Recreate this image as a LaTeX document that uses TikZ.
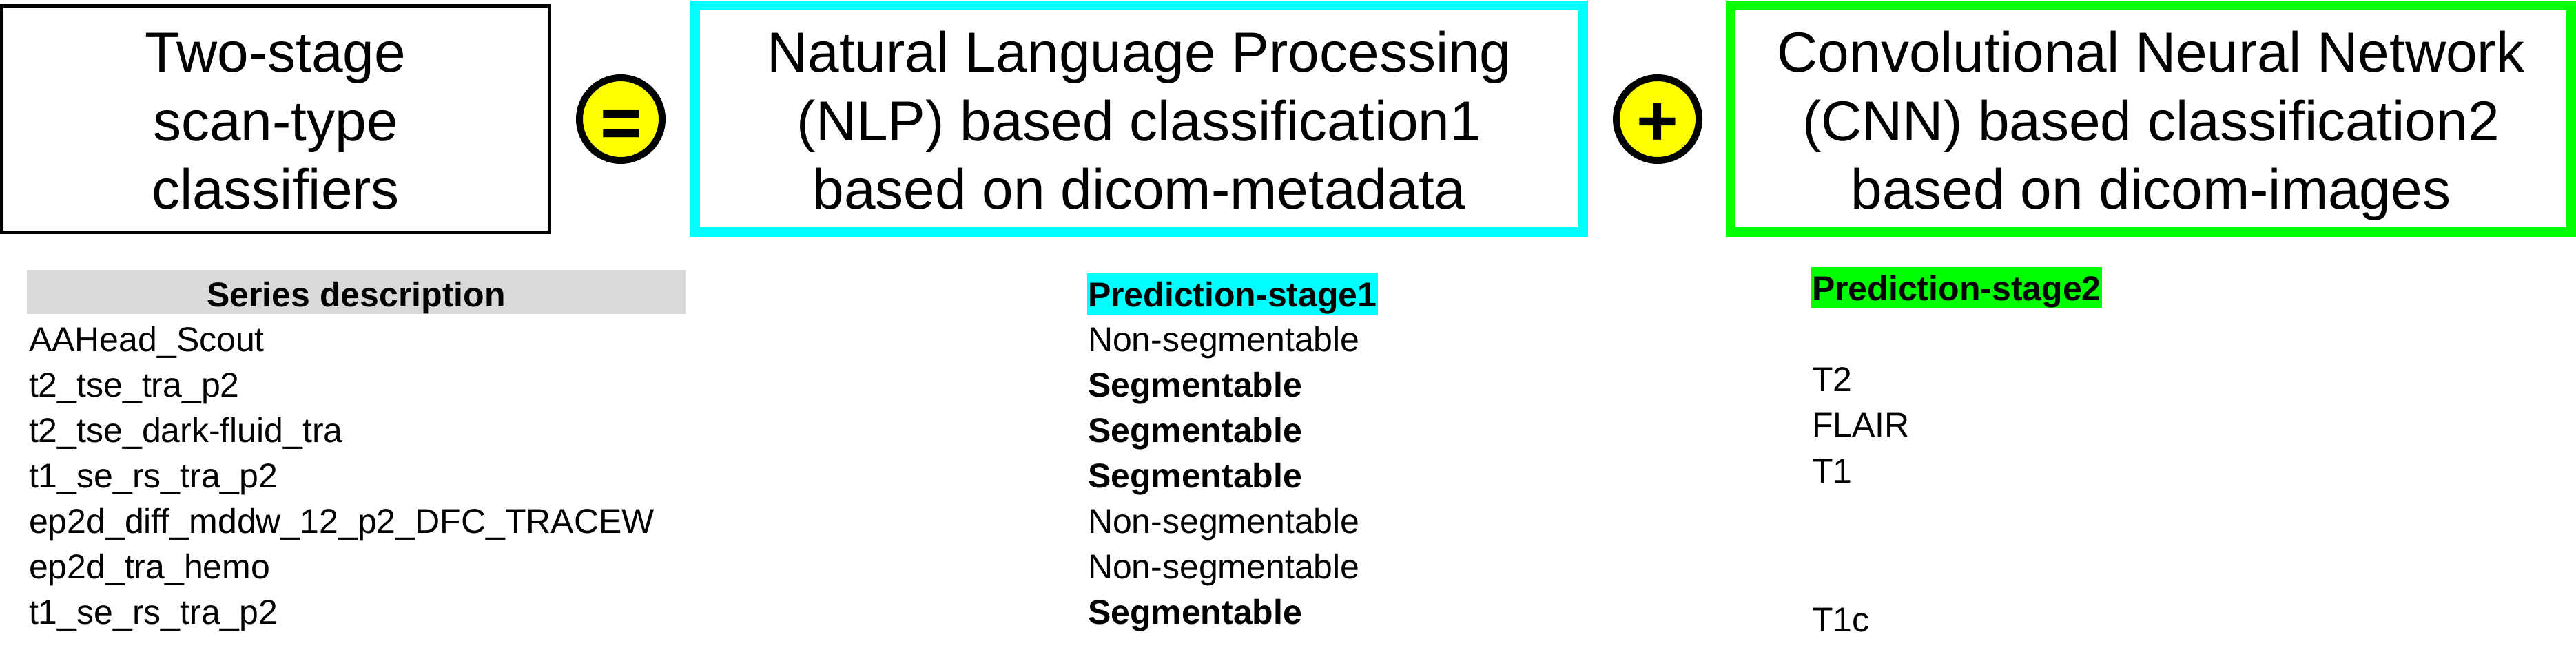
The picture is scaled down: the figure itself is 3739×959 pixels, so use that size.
\documentclass[tikz,border=0pt]{standalone}
\usepackage{fontspec}
\setmainfont{Liberation Sans}
\definecolor{hlcyan}{RGB}{0,255,255}
\definecolor{hlgreen}{RGB}{0,255,0}
\definecolor{hlgray}{RGB}{217,217,217}
\definecolor{opyellow}{RGB}{255,255,0}
\begin{document}
\begin{tikzpicture}[x=0.2pt,y=-0.2pt,
  bigbox/.style={draw, rectangle, inner sep=0pt, minimum height=65.8pt},
  boxtext/.style={inner sep=0pt, align=center, font=\fontsize{16.4pt}{19.8pt}\selectfont},
  opcircle/.style={circle, draw=black, fill=opyellow, line width=2pt, minimum size=24pt, inner sep=0pt},
  opsym/.style={inner sep=0pt, anchor=base, font=\fontsize{20.8pt}{24pt}\selectfont\bfseries},
  cell/.style={inner sep=0pt, anchor=base west, font=\fontsize{10pt}{12pt}\selectfont},
  boldcell/.style={inner sep=0pt, anchor=base west, font=\fontsize{10pt}{12pt}\selectfont\bfseries},
  headcell/.style={inner ysep=0pt, inner xsep=0.2pt, font=\fontsize{10pt}{12pt}\selectfont\bfseries},
  ]
\useasboundingbox (0,0) rectangle (3739,959);

% top row boxes
\node[bigbox, line width=1pt, minimum width=159pt] (cls) at (400,173) {};
\node[boxtext] (clsT) at (400,184.2) {\strut Two-stage\\\strut scan-type\\\strut classifiers};

\node[opcircle] (eq) at (901,173) {};
\node[opsym] (eqsym) at (901.5,215) {=};

\node[bigbox, draw=hlcyan, line width=2.8pt, minimum width=257.8pt] (nlp) at (1653.5,172.5) {};
\node[boxtext] (nlpT) at (1653.5,184.2) {\strut Natural Language Processing\\\strut (NLP) based classification1\\\strut based on dicom-metadata};

\node[opcircle] (plus) at (2406,173) {};
\node[opsym] (plussym) at (2406,212) {+};

\node[bigbox, draw=hlgreen, line width=2.8pt, minimum width=244pt] (cnn) at (3122,172.5) {};
\node[boxtext] (cnnT) at (3122,184.2) {\strut Convolutional Neural Network\\\strut (CNN) based classification2\\\strut based on dicom-images};

% table headers
\node[headcell, fill=hlgray, minimum width=191.2pt, text height=10.6pt, text depth=2.2pt, anchor=base] (hdr) at (517,445) {Series description};
\node[headcell, fill=hlcyan, text height=9.6pt, text depth=2.6pt, anchor=base west] (p1) at (1577,445) {Prediction-stage1};
\node[headcell, fill=hlgreen, text height=9.6pt, text depth=2.4pt, anchor=base west] (p2) at (2628,436) {Prediction-stage2};

% series descriptions
\node[cell] (r1) at (41,510) {AAHead\_Scout};
\node[cell] (r2) at (41,576) {t2\_tse\_tra\_p2};
\node[cell] (r3) at (41,642) {t2\_tse\_dark-fluid\_tra};
\node[cell] (r4) at (41,708) {t1\_se\_rs\_tra\_p2};
\node[cell] (r5) at (41,774) {ep2d\_diff\_mddw\_12\_p2\_DFC\_TRACEW};
\node[cell] (r6) at (41,840) {ep2d\_tra\_hemo};
\node[cell] (r7) at (41,906) {t1\_se\_rs\_tra\_p2};

% stage 1 predictions
\node[cell] (s1) at (1578,510) {Non-segmentable};
\node[boldcell] (s2) at (1578,576) {Segmentable};
\node[boldcell] (s3) at (1578,642) {Segmentable};
\node[boldcell] (s4) at (1578,708) {Segmentable};
\node[cell] (s5) at (1578,774) {Non-segmentable};
\node[cell] (s6) at (1578,840) {Non-segmentable};
\node[boldcell] (s7) at (1578,906) {Segmentable};

% stage 2 predictions
\node[cell] (t1) at (2629,568) {T2};
\node[cell] (t2) at (2629,634) {FLAIR};
\node[cell] (t3) at (2629,701) {T1};
\node[cell] (t4) at (2629,917) {T1c};
\end{tikzpicture}
\end{document}
